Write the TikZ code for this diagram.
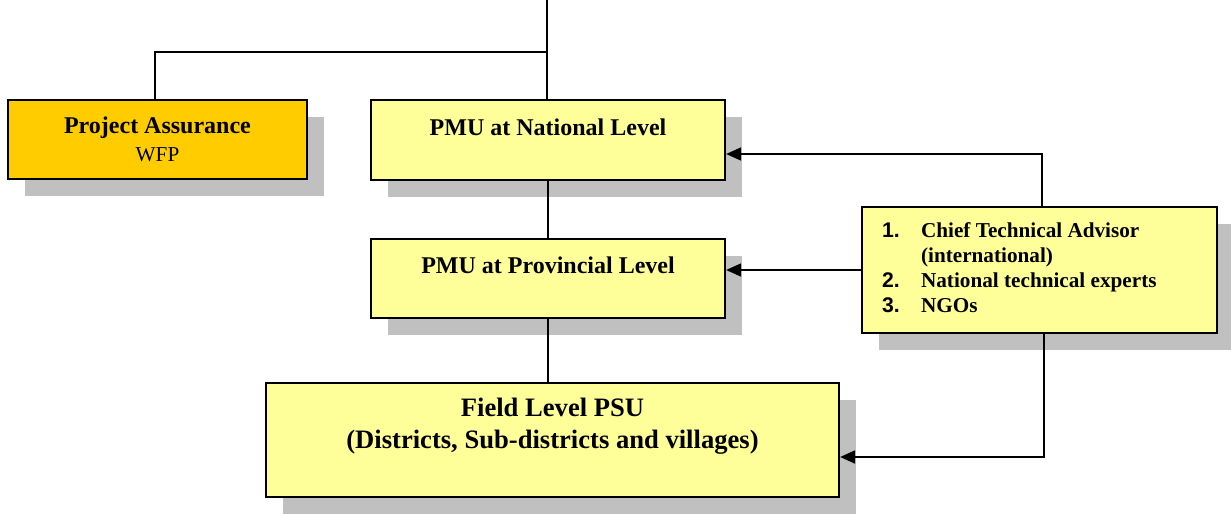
\documentclass[tikz,border=0pt]{standalone}
\usepackage{fontspec}
\setmainfont{Liberation Serif}
\setsansfont{Liberation Sans}
\usetikzlibrary{arrows.meta,positioning,shadows}
\definecolor{boxyellow}{RGB}{255,255,153}
\definecolor{boxorange}{RGB}{255,204,0}
\definecolor{shadowgray}{RGB}{192,192,192}
\newcommand{\advnum}[1]{\makebox[19.5pt][l]{\sffamily\bfseries #1}}

\begin{document}
\begin{tikzpicture}[x=0.5pt, y=-0.5pt, every node/.style={font=\bfseries\fontsize{12}{14}\selectfont}]
\tikzset{unit/.style={draw, line width=1.1pt, fill=boxyellow, inner sep=0pt,
    drop shadow={shadow xshift=8.5pt, shadow yshift=-8.5pt, fill=shadowgray, opacity=1}},
  link/.style={line width=0.9pt},
  feed/.style={line width=0.9pt, -{Triangle[length=7.5pt,width=6.5pt]}}}
\useasboundingbox (0,0) rectangle (1231,514);
% boxes
\node[unit, fill=boxorange, minimum width=149.5pt, minimum height=39.5pt, align=center] (pa) at (157.5,139.5)
  {Project Assurance\\[0pt]{\mdseries\fontsize{10.6}{12}\selectfont WFP}};
\node[unit, minimum width=177pt, minimum height=40pt] (nat) at (548,140) {};
\node at (548,127) {PMU at National Level};
\node[unit, minimum width=177pt, minimum height=39.5pt] (prov) at (548,278.5) {};
\node at (548,265) {PMU at Provincial Level};
\node[unit, minimum width=286.5pt, minimum height=57pt] (field) at (552.5,440) {};
\node[font=\bfseries\fontsize{13.3}{16}\selectfont, align=center] at (552.5,426)
  {Field Level PSU\\(Districts, Sub-districts and villages)};
\node[unit, minimum width=177.5pt, minimum height=63pt] (adv) at (1039.5,270) {};
\node[anchor=west, align=left, font=\bfseries\fontsize{10.6}{12.5}\selectfont] at (875,268)
  {\advnum{1.}Chief Technical Advisor\\\hspace*{19.5pt}(international)\\
   \advnum{2.}National technical experts\\\advnum{3.}NGOs};
% hierarchy lines
\coordinate (top) at (547,0);
\coordinate (split) at (547,52);
\draw[link] (top) -- (top |- nat.north);
\draw[link] (split) -| ([xshift=-1.25pt]pa.north);
\draw[link] (nat.south) -- (prov.north);
\draw[link] (prov.south) -- (prov.south |- field.north);
% support arrows
\draw[feed] ([xshift=1.25pt]adv.north) |- ([yshift=-7pt]nat.east);
\draw[feed] (adv.west) -- (adv.west -| prov.east);
\draw[feed] ([xshift=2.25pt]adv.south) |- ([yshift=-8.5pt]field.east);
\end{tikzpicture}
\end{document}
